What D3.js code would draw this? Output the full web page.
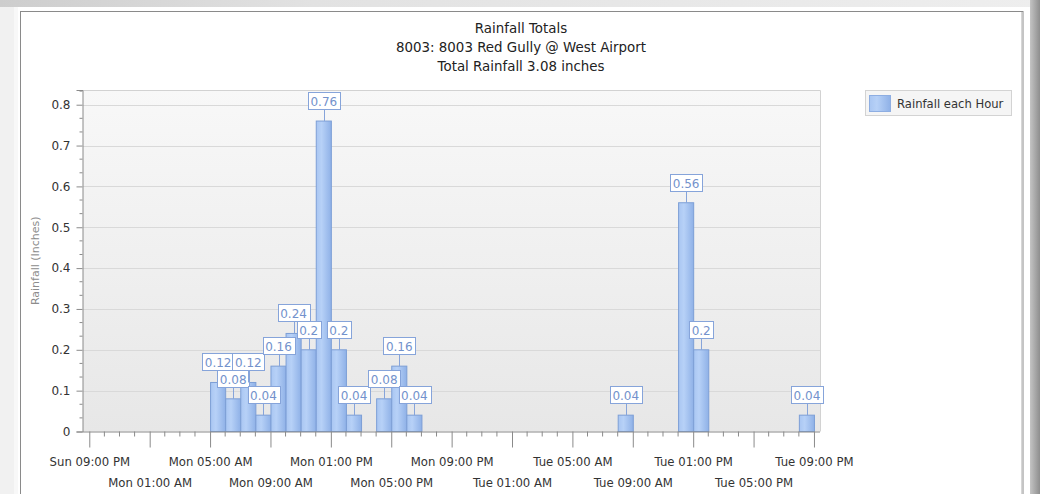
<!DOCTYPE html>
<html>
<head>
<meta charset="utf-8">
<script src="https://cdn.jsdelivr.net/npm/d3@7"></script>
<style>
html,body{margin:0;padding:0;background:#ececec;}
svg{display:block;font-family:"DejaVu Sans",Verdana,sans-serif;}
</style>
</head>
<body>
<script>
// ---------------- data ----------------
const titleLines = ["Rainfall Totals", "8003: 8003 Red Gully @ West Airport", "Total Rainfall 3.08 inches"];
const seriesName = "Rainfall each Hour";
const yAxisTitle = "Rainfall (Inches)";
const hourStarts = [
  "2016-01-04T05:00","2016-01-04T06:00","2016-01-04T07:00","2016-01-04T08:00",
  "2016-01-04T09:00","2016-01-04T10:00","2016-01-04T11:00","2016-01-04T12:00",
  "2016-01-04T13:00","2016-01-04T14:00","2016-01-04T16:00","2016-01-04T17:00",
  "2016-01-04T18:00","2016-01-05T08:00","2016-01-05T12:00","2016-01-05T13:00",
  "2016-01-05T20:00"];
const rainfall = [0.12,0.08,0.12,0.04,0.16,0.24,0.2,0.76,0.2,0.04,0.08,0.16,0.04,0.04,0.56,0.2,0.04];
const xTickTimes = [
  "2016-01-03T21:00","2016-01-04T01:00","2016-01-04T05:00","2016-01-04T09:00",
  "2016-01-04T13:00","2016-01-04T17:00","2016-01-04T21:00","2016-01-05T01:00",
  "2016-01-05T05:00","2016-01-05T09:00","2016-01-05T13:00","2016-01-05T17:00",
  "2016-01-05T21:00"];
const yTicks = [0,0.1,0.2,0.3,0.4,0.5,0.6,0.7,0.8];
const xDomain = ["2016-01-03T20:35","2016-01-05T21:24"];
const yMax = 0.836;

// ---------------- setup ----------------
const parse = d3.timeParse("%Y-%m-%dT%H:%M");
const W = 1040, H = 494;
const plot = {l:83, r:820, t:90, b:431.5};
const svg = d3.select("body").append("svg").attr("width", W).attr("height", H);
const defs = svg.append("defs");

const gBg = defs.append("linearGradient").attr("id","plotbg").attr("x1",0).attr("y1",0).attr("x2",0).attr("y2",1);
gBg.append("stop").attr("offset","0%").attr("stop-color","#f8f8f8");
gBg.append("stop").attr("offset","100%").attr("stop-color","#e7e7e7");

const gBar = defs.append("linearGradient").attr("id","barfill").attr("x1",0).attr("y1",0).attr("x2",1).attr("y2",0);
gBar.append("stop").attr("offset","0%").attr("stop-color","#a9c6f2");
gBar.append("stop").attr("offset","35%").attr("stop-color","#b7d1f7");
gBar.append("stop").attr("offset","100%").attr("stop-color","#8fb1e7");

const gTop = defs.append("linearGradient").attr("id","topshade").attr("x1",0).attr("y1",0).attr("x2",1).attr("y2",0);
gTop.append("stop").attr("offset","0%").attr("stop-color","#cdcdcd");
gTop.append("stop").attr("offset","30%").attr("stop-color","#e2e2e2");
gTop.append("stop").attr("offset","100%").attr("stop-color","#eeeeee");

const gRight = defs.append("linearGradient").attr("id","rightshade").attr("x1",0).attr("y1",0).attr("x2",1).attr("y2",0);
gRight.append("stop").attr("offset","0%").attr("stop-color","#c4c4c4");
gRight.append("stop").attr("offset","100%").attr("stop-color","#8e8e8e");

// ---------------- frame ----------------
svg.append("rect").attr("x",0).attr("y",0).attr("width",W).attr("height",H).attr("fill","#eeeeee");
svg.append("rect").attr("x",0).attr("y",0).attr("width",W).attr("height",7).attr("fill","url(#topshade)");
svg.append("rect").attr("x",0).attr("y",7).attr("width",18).attr("height",H).attr("fill","#f1f1f1");
svg.append("rect").attr("x",14).attr("y",7).attr("width",5).attr("height",H).attr("fill","#f8f8f8");
svg.append("rect").attr("x",1030).attr("y",0).attr("width",10).attr("height",H).attr("fill","url(#rightshade)");
svg.append("rect").attr("x",18).attr("y",7).attr("width",1012).attr("height",H).attr("fill","#ffffff");
svg.append("rect").attr("x",20.5).attr("y",11.5).attr("width",1002.5).attr("height",H).attr("fill","#ffffff").attr("stroke","#8a8a8a");
svg.append("line").attr("x1",1021.5).attr("x2",1021.5).attr("y1",12).attr("y2",H).attr("stroke","#d6d6d6");

// ---------------- scales ----------------
const x = d3.scaleTime().domain(xDomain.map(parse)).range([plot.l, plot.r]);
const y = d3.scaleLinear().domain([0, yMax]).range([plot.b, plot.t]);

// plot background
svg.append("rect").attr("x",plot.l).attr("y",plot.t).attr("width",plot.r-plot.l).attr("height",plot.b-plot.t)
  .attr("fill","url(#plotbg)");
svg.append("path").attr("d",`M${plot.l},${plot.t+0.5}H${plot.r+0.5}V${plot.b}`).attr("fill","none").attr("stroke","#d2d2d2");

// gridlines
svg.append("g").selectAll("line").data(yTicks.filter(d=>d>0)).join("line")
  .attr("x1",plot.l).attr("x2",plot.r)
  .attr("y1",d=>Math.round(y(d))+0.5).attr("y2",d=>Math.round(y(d))+0.5)
  .attr("stroke","#d9d9d9");

// ---------------- bars ----------------
const data = hourStarts.map((s,i)=>({t:parse(s), v:rainfall[i]}));
svg.append("g").selectAll("rect").data(data).join("rect")
  .attr("x", d=>x(d.t)+0.5)
  .attr("width", d=>x(d3.timeHour.offset(d.t,1))-x(d.t))
  .attr("y", d=>y(d.v))
  .attr("height", d=>y(0)-y(d.v))
  .attr("fill","url(#barfill)")
  .attr("stroke","#7d9fd6").attr("stroke-width",1);

// ---------------- axes ----------------
const axisColor = "#8a8a8a";
// y axis
const yMinor = d3.range(0, yMax, 0.1/3).filter(v => Math.abs(v*10 - Math.round(v*10)) > 0.01);
const gy = svg.append("g").attr("transform",`translate(${plot.l-0.5},0)`)
  .call(d3.axisLeft(y).tickValues(yTicks).tickSize(6).tickPadding(6)
    .tickFormat(d=>d3.format(".1~f")(d)));
gy.select(".domain").attr("stroke",axisColor);
gy.selectAll(".tick line").attr("stroke",axisColor);
gy.selectAll(".tick text").attr("fill","#333").style("font-size","12px").style("font-family","DejaVu Sans");
gy.append("g").selectAll("line").data(yMinor).join("line")
  .attr("x1",-3).attr("x2",0).attr("y1",d=>y(d)).attr("y2",d=>y(d)).attr("stroke",axisColor);

// x axis
const xMajor = xTickTimes.map(parse);
const xMinor = d3.timeHour.range(xMajor[0], d3.timeHour.offset(xMajor[xMajor.length-1],1))
  .filter(d => !xMajor.some(m => +m === +d));
const gx = svg.append("g").attr("transform",`translate(0,${plot.b})`)
  .call(d3.axisBottom(x).tickValues(xMajor).tickSize(16).tickSizeOuter(0)
    .tickFormat(d3.timeFormat("%a %I:%M %p")));
gx.select(".domain").attr("stroke",axisColor).attr("d",`M${plot.l},0.5H${plot.r}`);
gx.selectAll(".tick line").attr("stroke",axisColor);
gx.selectAll(".tick text").attr("fill","#333").style("font-size","11.7px").style("font-family","DejaVu Sans")
  .attr("dy",null).attr("y",(d,i)=> i%2===0 ? 34.5 : 55.5);
gx.append("g").selectAll("line").data(xMinor).join("line")
  .attr("x1",d=>x(d)).attr("x2",d=>x(d)).attr("y1",0).attr("y2",5).attr("stroke",axisColor);

// y axis title
svg.append("text").attr("transform",`translate(39,${(plot.t+plot.b)/2}) rotate(-90)`)
  .attr("text-anchor","middle").attr("fill","#8c8c8c").style("font-size","11px")
  .text(yAxisTitle);

// ---------------- data labels ----------------
const labelColor = "#86a4da";
const lg = svg.append("g");
data.forEach(d => {
  const cx = (x(d.t) + x(d3.timeHour.offset(d.t,1)))/2 + 0.5;
  const top = y(d.v);
  const boxBottom = Math.round(top - 12) + 0.5;
  const g = lg.append("g");
  g.append("line").attr("x1",Math.round(cx)+0.5).attr("x2",Math.round(cx)+0.5).attr("y1",boxBottom).attr("y2",top)
    .attr("stroke",labelColor);
  const txt = String(d.v);
  const rect = g.append("rect").attr("fill","#ffffff").attr("stroke",labelColor);
  const t = g.append("text").attr("x",cx).attr("y",boxBottom-3.8).attr("text-anchor","middle")
    .attr("fill","#7392cc").style("font-size","12px").text(txt);
  const w = t.node().getComputedTextLength() + 5;
  rect.attr("x",Math.round(cx - w/2)+0.5).attr("y",boxBottom-17).attr("width",Math.round(w)).attr("height",17);
});

// ---------------- title ----------------
svg.append("g").selectAll("text").data(titleLines).join("text")
  .attr("x",521).attr("y",(d,i)=>33 + i*18.8).attr("text-anchor","middle")
  .attr("fill","#222").style("font-size","13.4px").text(d=>d);

// ---------------- legend ----------------
const leg = svg.append("g");
leg.append("rect").attr("x",865.5).attr("y",90.5).attr("width",146).attr("height",25)
  .attr("fill","#f5f5f5").attr("stroke","#d3d3d3");
leg.append("rect").attr("x",869.5).attr("y",95.5).attr("width",21).attr("height",16)
  .attr("fill","url(#barfill)").attr("stroke","#8eaee2");
leg.append("text").attr("x",897).attr("y",107.5).attr("fill","#333").style("font-size","11.6px").text(seriesName);
</script>
</body>
</html>
